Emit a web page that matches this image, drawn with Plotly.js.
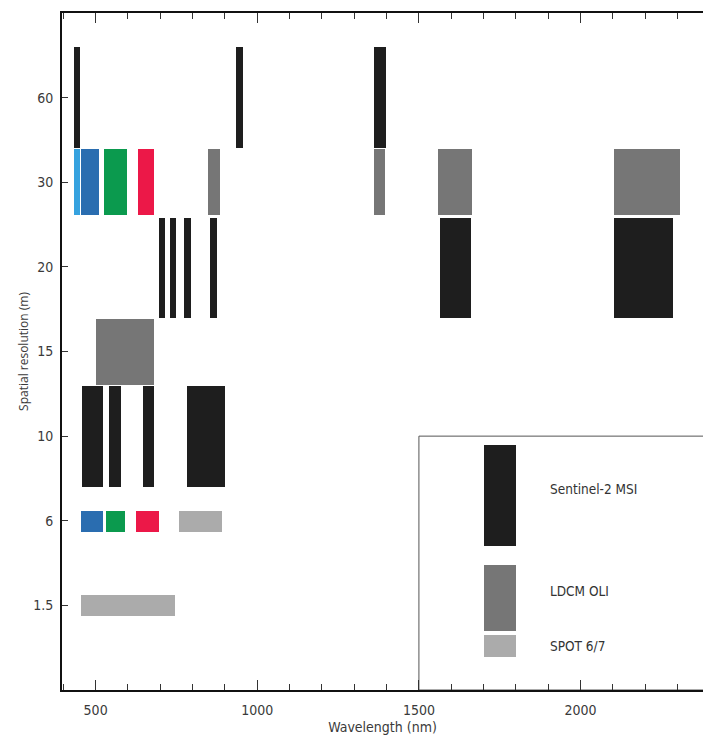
<!DOCTYPE html>
<html>
<head>
<meta charset="utf-8">
<script src="https://cdn.plot.ly/plotly-3.0.1.min.js"></script>
<style>html,body{margin:0;padding:0;background:#fff;}#chart{width:703px;height:735px;}</style>
</head>
<body>
<div id="chart"></div>
<script>
// Resolution rows (categorical, evenly spaced) and their drawn vertical extent (row units)
const resLevels = ['1.5', '6', '10', '15', '20', '30', '60'];
const rowLow  = [-0.13, 0.87, 1.40, 2.61, 3.40, 4.61, 5.41];
const rowHigh = [ 0.12, 1.12, 2.59, 3.38, 4.58, 5.39, 6.60];

// Spectral bands (nm): start, end, resolution row, colour group
const bandStart = [433, 935, 1362, 697, 731, 772, 855, 1565, 2103, 457, 542, 648, 783,
                   432, 455, 525, 630, 847, 1362, 1560, 2103, 501,
                   455, 531, 626, 759, 455];
const bandEnd   = [453, 955, 1398, 714, 750, 796, 876, 1660, 2287, 523, 578, 680, 900,
                   452, 509, 598, 680, 885, 1395, 1665, 2306, 682,
                   523, 590, 695, 891, 746];
const bandRes   = ['60', '60', '60', '20', '20', '20', '20', '20', '20', '10', '10', '10', '10',
                   '30', '30', '30', '30', '30', '30', '30', '30', '15',
                   '6', '6', '6', '6', '1.5'];
const bandGroup = ['msi', 'msi', 'msi', 'msi', 'msi', 'msi', 'msi', 'msi', 'msi', 'msi', 'msi', 'msi', 'msi',
                   'coastal', 'blue', 'green', 'red', 'oli', 'oli', 'oli', 'oli', 'oli',
                   'blue', 'green', 'red', 'spot', 'spot'];

const groupNames  = ['msi', 'oli', 'spot', 'coastal', 'blue', 'green', 'red'];
const groupColors = ['#1e1e1e', '#767676', '#ababab', '#35a2df', '#2a6db0', '#0b9a4e', '#ec1848'];

// Custom legend drawn inside the plot
const legendLabels = ['Sentinel-2 MSI', 'LDCM OLI', 'SPOT 6/7'];
const legendGroups = ['msi', 'oli', 'spot'];
const legendStart = 1700, legendEnd = 1800, legendTextX = 1900;
const legendLow  = [0.70, -0.30, -0.61];
const legendHigh = [1.89, 0.48, -0.35];
const legendTextY = [1.37, 0.165, -0.48];
const legendBox  = {x0: 1500, x1: 2600, y0: -1, y1: 2};

const traces = [];
groupNames.forEach((g, gi) => {
  const idx = bandGroup.map((v, i) => v === g ? i : -1).filter(i => i >= 0);
  const ys = [], ws = [], bs = [], xs = [];
  idx.forEach(i => {
    const r = resLevels.indexOf(bandRes[i]);
    ys.push((rowLow[r] + rowHigh[r]) / 2);
    ws.push(rowHigh[r] - rowLow[r]);
    bs.push(bandStart[i]);
    xs.push(bandEnd[i] - bandStart[i]);
  });
  traces.push({type: 'bar', orientation: 'h', y: ys, x: xs, base: bs, width: ws,
    marker: {color: groupColors[gi], line: {width: 0}}, showlegend: false, hoverinfo: 'skip'});
});
legendGroups.forEach((g, li) => {
  const c = groupColors[groupNames.indexOf(g)];
  traces.push({type: 'bar', orientation: 'h', y: [(legendLow[li] + legendHigh[li]) / 2],
    x: [legendEnd - legendStart], base: [legendStart], width: [legendHigh[li] - legendLow[li]],
    marker: {color: c, line: {width: 0}}, showlegend: false, hoverinfo: 'skip'});
});

const annotations = legendLabels.map((t, li) => ({
  x: legendTextX, y: legendTextY[li], xref: 'x', yref: 'y',
  text: t, showarrow: false, xanchor: 'left', yanchor: 'middle',
  font: {family: 'DejaVu Sans Condensed, sans-serif', size: 13.5, color: '#333'}
}));

const layout = {
  width: 703, height: 735,
  margin: {l: 62, r: 0, t: 13, b: 45},
  paper_bgcolor: '#fff', plot_bgcolor: '#fff',
  barmode: 'overlay', bargap: 0,
  showlegend: false,
  font: {family: 'DejaVu Sans Condensed, sans-serif', size: 14, color: '#444'},
  xaxis: {
    range: [396, 2378.7], showgrid: false, zeroline: false,
    showline: true, linecolor: '#111', linewidth: 2, mirror: 'ticks',
    ticks: 'inside', ticklen: 10, tickcolor: '#333', tickwidth: 1,
    tickvals: [500, 1000, 1500, 2000], ticktext: ['500', '1000', '1500', '2000'],
    minor: {dtick: 100, tick0: 0, ticks: 'inside', ticklen: 6, tickcolor: '#333', tickwidth: 1, showgrid: false},
    tickfont: {size: 14, color: '#3a3a3a'}, ticklabelstandoff: 6,
    title: {text: 'Wavelength (nm)', standoff: 6, font: {size: 14, color: '#3a3a3a'}}
  },
  yaxis: {
    range: [-1, 7], showgrid: false, zeroline: false,
    showline: true, linecolor: '#111', linewidth: 2, mirror: false,
    ticks: 'inside', ticklen: 6, tickcolor: '#333', tickwidth: 1,
    tickvals: [0, 1, 2, 3, 4, 5, 6], ticktext: resLevels,
    tickfont: {size: 14, color: '#3a3a3a'}, ticklabelstandoff: 4,
    title: {text: 'Spatial resolution (m)', standoff: 2, font: {family: 'Open Sans, sans-serif', size: 12, color: '#3a3a3a'}}
  },
  shapes: [{type: 'rect', xref: 'x', yref: 'y', x0: legendBox.x0, x1: legendBox.x1,
    y0: legendBox.y0, y1: legendBox.y1, line: {color: '#555', width: 1}, fillcolor: 'rgba(0,0,0,0)', layer: 'below'}],
  annotations: annotations
};

Plotly.newPlot('chart', traces, layout, {staticPlot: true, displayModeBar: false});
</script>
</body>
</html>
